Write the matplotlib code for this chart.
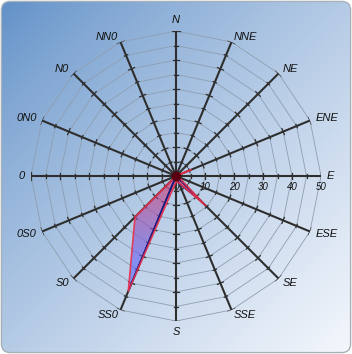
import numpy as np
import matplotlib
matplotlib.use('Agg')
from matplotlib import pyplot as plt
from matplotlib.patches import FancyBboxPatch
from matplotlib.image import BboxImage
from matplotlib.transforms import Bbox, TransformedBbox, offset_copy

# wind directions, clockwise from north
directions = ['N', 'NNE', 'NE', 'ENE', 'E', 'ESE', 'SE', 'SSE',
              'S', 'SS0', 'S0', '0S0', '0', '0N0', 'N0', 'NN0']
series_fill = [0, 0, 0, 5.5, 0, 1, 14.5, 2.5, 2, 43, 20, 0, 0, 0, 0, 0]
series_line = [0, 0, 0, 0, 0, 0, 12, 3, 0, 42, 0, 0, 0, 0, 0, 0]
rings = [5, 10, 15, 20, 25, 30, 35, 40, 45, 50]
scale_labels = [0, 10, 20, 30, 40, 50]
r_max = 50

fig = plt.figure(figsize=(3.52, 3.54), dpi=100)

# rounded panel with a diagonal gradient
bg = fig.add_axes([0, 0, 1, 1])
bg.axis('off')
bg.set_xlim(0, 1)
bg.set_ylim(0, 1)
yy, xx = np.mgrid[0:1:200j, 0:1:200j]
t = np.clip((xx + yy) / 2.0, 0, 1) ** 0.8
c0 = np.array([0.37, 0.56, 0.78])
c1 = np.array([0.96, 0.97, 0.99])
bg_img = c0 + (c1 - c0) * t[..., None]
im = bg.imshow(bg_img, extent=[0, 1, 0, 1], aspect='auto', origin='upper')
box = FancyBboxPatch((0.004, 0.004), 0.992, 0.992,
                     boxstyle='round,pad=0,rounding_size=0.025',
                     transform=bg.transAxes, fc='none', ec='#a8b0b8', lw=1)
bg.add_patch(box)
im.set_clip_path(box)

# polar chart, centre at (176, 176) px, radius 145 px
ax = fig.add_axes([31 / 352, 33 / 354, 290 / 352, 290 / 354], projection='polar')
ax.set_theta_zero_location('N')
ax.set_theta_direction(-1)
ax.set_ylim(0, r_max)
ax.axis('off')

theta = np.deg2rad(np.arange(len(directions)) * 22.5)
closed = np.append(theta, theta[0])

for r in rings:
    ax.plot(closed, [r] * len(closed), color='#8f9eb0', lw=0.6, zorder=1)

for th in theta:
    ax.plot([th, th], [0, r_max], color='#2e2e2e', lw=1.5, zorder=2,
            solid_capstyle='butt')
    for r in rings:
        half = 1.1 if r % 10 == 0 else 0.6
        if r == r_max:
            half = 1.3
        dth = np.arctan(half / r)
        rr = np.hypot(r, half)
        ax.plot([th - dth, th + dth], [rr, rr], color='#2e2e2e', lw=0.9, zorder=2)

# direction labels
for th, name in zip(theta, directions):
    s, c = np.sin(th), np.cos(th)
    ha = 'left' if s > 0.1 else ('right' if s < -0.1 else 'center')
    va = 'bottom' if c > 0.95 else ('top' if c < -0.95 else 'center')
    ax.text(th, 52, name, ha=ha, va=va, fontsize=8, style='italic',
            family='Liberation Sans', color='#111111', clip_on=False, zorder=5)

# scale labels along the east axis
lab_tr = offset_copy(ax.transData, fig=fig, y=-11, units='dots')
for v in scale_labels:
    ax.text(np.pi / 2, v, str(v), transform=lab_tr, ha='center', va='center',
            fontsize=7, style='italic', family='Liberation Sans',
            color='#111111', clip_on=False, zorder=1.5)

# filled series with red-to-blue gradient
poly = ax.fill(theta, series_fill, facecolor='none', edgecolor='none')[0]
h = 300
yf = 1 - np.linspace(0, 1, h)
g = np.clip((0.5 - yf) / 0.3, 0, 1)
top = np.array([0.86, 0.22, 0.40, 0.62])
bot = np.array([0.38, 0.40, 0.97, 0.62])
grad = top + (bot - top) * g[:, None]
grad = np.repeat(grad[:, None, :], 4, axis=1)
bi = BboxImage(TransformedBbox(Bbox([[0, 0], [1, 1]]), ax.transAxes),
               interpolation='bilinear')
bi.set_data(grad)
bi.set_zorder(2.5)
ax.add_artist(bi)
bi.set_clip_path(poly)

ax.plot(closed, np.append(series_line, series_line[0]), color='#1c1c86',
        lw=1.0, zorder=3)
ax.plot(closed, np.append(series_fill, series_fill[0]), color='#e8304a',
        lw=1.2, alpha=0.9, zorder=3.2)
ax.plot([0], [0], 'o', color='#5a0012', ms=6, zorder=4)

fig.savefig('out.png', dpi=100)
